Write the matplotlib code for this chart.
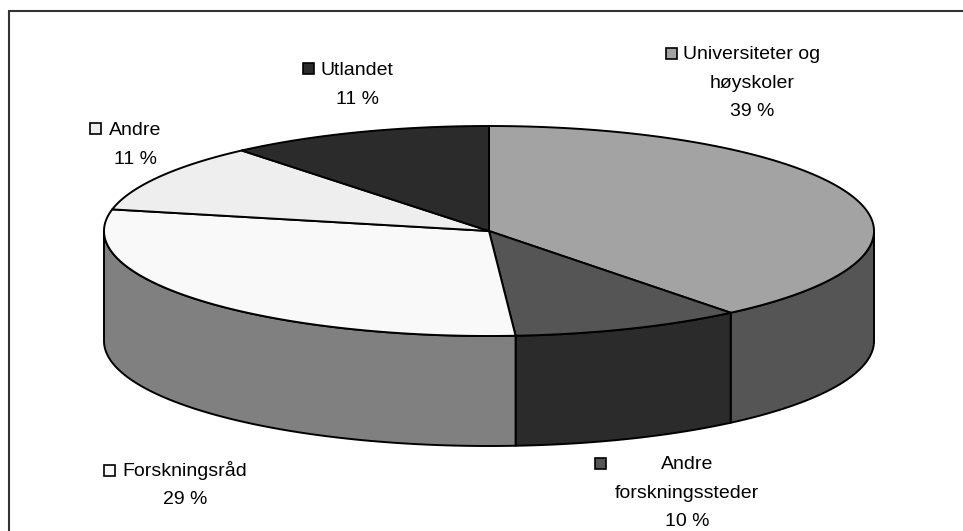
import numpy as np
import matplotlib
matplotlib.use("Agg")
import matplotlib.pyplot as plt
from matplotlib.patches import Polygon, Rectangle

plt.rcParams["font.family"] = ["Liberation Sans", "DejaVu Sans"]

# DATA
categories = ["Universiteter og\nhøyskoler", "Andre\nforskningssteder", "Forskningsråd", "Andre", "Utlandet"]
# slice sizes, the labels only show them rounded
shares = [39.2, 9.7, 29.4, 10.6, 11.1]
labels = ["39 %", "10 %", "29 %", "11 %", "11 %"]
top_colors = ["#a3a3a3", "#555555", "#f9f9f9", "#eeeeee", "#2b2b2b"]
side_colors = ["#555555", "#2b2b2b", "#808080", "#808080", "#2b2b2b"]

# LAYOUT (pixels of the 963x531 picture)
W, H = 963, 531
CX, CY = 489, 231
RX, RY = 385, 105
DEPTH = 110
LINE_STEP = 28.5

# x centre and baseline of the first text line, top left of the marker
label_pos = [(752, 59), (687, 469), (185, 476), (135, 135), (357, 75)]
marker_pos = [(666, 48), (595, 458), (104, 465), (90, 123), (303, 63)]


def ellipse_point(angle):
    # angle runs clockwise from 12 o'clock
    return CX + RX * np.sin(angle), CY - RY * np.cos(angle)


fig = plt.figure(figsize=(W / 100, H / 100), dpi=100)
ax = fig.add_axes([0, 0, 1, 1])
ax.set_xlim(0, W)
ax.set_ylim(H, 0)
ax.axis("off")

# frame: only the top and left lines are in the picture
ax.plot([8.5, 8.5, W], [H, 10.5, 10.5], color="#333333", lw=1.5, solid_joinstyle="miter", zorder=1)

edges = np.cumsum([0] + shares) / sum(shares) * 2 * np.pi

# side wall, only the front half of the ellipse shows
for i, share in enumerate(shares):
    start = max(edges[i], np.pi / 2)
    end = min(edges[i + 1], 3 * np.pi / 2)
    if start >= end:
        continue
    t = np.linspace(start, end, 100)
    x, y = ellipse_point(t)
    pts = np.r_[np.c_[x, y], np.c_[x[::-1], y[::-1] + DEPTH]]
    ax.add_patch(Polygon(pts, closed=True, fc=side_colors[i], ec="black", lw=1.4, joinstyle="round", zorder=2))

# top face
for i, share in enumerate(shares):
    t = np.linspace(edges[i], edges[i + 1], 200)
    x, y = ellipse_point(t)
    pts = np.r_[[[CX, CY]], np.c_[x, y]]
    ax.add_patch(Polygon(pts, closed=True, fc=top_colors[i], ec="black", lw=1.4, joinstyle="round", zorder=3))

# labels, one text per line so the line step matches
for i, name in enumerate(categories):
    lx, ly = label_pos[i]
    for j, line in enumerate(name.split("\n") + [labels[i]]):
        ax.text(lx, ly + j * LINE_STEP, line, ha="center", va="baseline", fontsize=14, color="black", zorder=4)
    mx, my = marker_pos[i]
    ax.add_patch(Rectangle((mx, my), 11, 11, fc=top_colors[i], ec="black", lw=1.2, zorder=4))

fig.savefig("out.png", dpi=100)
